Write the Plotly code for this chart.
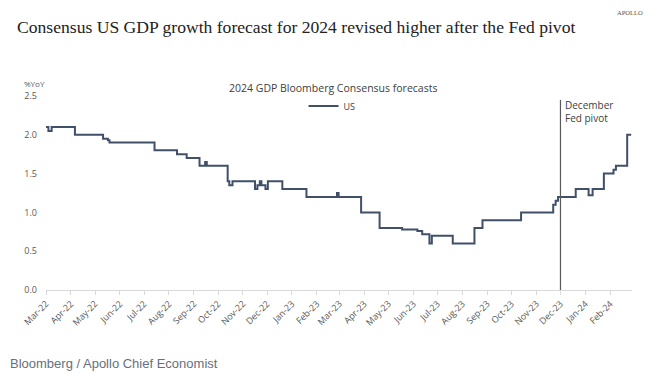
import plotly.graph_objects as go

# ---- data ----
dates = [
    "2022-03-01", "2022-03-04", "2022-03-08", "2022-04-06", "2022-05-11", "2022-05-17",
    "2022-05-19", "2022-07-14", "2022-08-11", "2022-08-23", "2022-09-08", "2022-09-15",
    "2022-09-17", "2022-10-13", "2022-10-15", "2022-10-19", "2022-11-16", "2022-11-19",
    "2022-11-22", "2022-11-24", "2022-11-29", "2022-12-02", "2022-12-20", "2023-01-19",
    "2023-02-26", "2023-02-28", "2023-03-28", "2023-04-20", "2023-05-18", "2023-06-06",
    "2023-06-12", "2023-06-21", "2023-06-24", "2023-07-20", "2023-08-16", "2023-08-26",
    "2023-10-13", "2023-11-22", "2023-11-25", "2023-11-28", "2023-12-20", "2024-01-05",
    "2024-01-10", "2024-01-24", "2024-02-05", "2024-02-08", "2024-02-22", "2024-02-27",
]
us_gdp_2024 = [
    2.1, 2.05, 2.1, 2.0, 1.95, 1.93,
    1.9, 1.8, 1.75, 1.7, 1.6, 1.65,
    1.6, 1.4, 1.35, 1.4, 1.3, 1.35,
    1.4, 1.35, 1.3, 1.4, 1.3, 1.2,
    1.25, 1.2, 1.0, 0.8, 0.78, 0.76,
    0.72, 0.6, 0.7, 0.6, 0.8, 0.9,
    1.0, 1.1, 1.15, 1.2, 1.3, 1.22,
    1.3, 1.5, 1.55, 1.6, 2.0, 2.0,
]
series_name = "US"
fed_pivot_date = "2023-12-01"
x_range = ["2022-03-01", "2024-02-28"]
y_range = [0, 2.5]

title = "Consensus US GDP growth forecast for 2024 revised higher after the Fed pivot"
chart_title = "2024 GDP Bloomberg Consensus forecasts"
y_unit = "%YoY"
pivot_label = "December<br>Fed pivot"
source = "Bloomberg / Apollo Chief Economist"
brand = "APOLLO"

# ---- layout geometry (page has an 8px body margin) ----
OFF = 8
W, H = 660 - OFF, 379 - OFF
ML, MR, MT, MB = 46 - OFF, 28, 96 - OFF, 89
PW, PH = W - ML - MR, H - MT - MB


def px(x):
    return (x - OFF - ML) / PW


def py(y):
    return (H - MB - (y - OFF)) / PH


fig = go.Figure()
fig.add_trace(go.Scatter(
    x=dates, y=us_gdp_2024, name=series_name, mode="lines",
    line=dict(color="#3f5068", width=2, shape="hv"),
))

fig.add_shape(type="line", xref="x", yref="y", x0=fed_pivot_date, x1=fed_pivot_date,
              y0=0, y1=2.45, line=dict(color="#595959", width=1.2))

font_sans = "Open Sans, Noto Sans, sans-serif"
ann = [
    dict(text=pivot_label, x=fed_pivot_date, xref="x", y=2.3, yref="y", xanchor="left",
         yanchor="middle", xshift=3, align="left", showarrow=False,
         font=dict(family=font_sans, size=10, color="#404040")),
    dict(text=chart_title, x=px(333), y=py(88), xref="paper", yref="paper",
         xanchor="center", yanchor="middle", showarrow=False,
         font=dict(family=font_sans, size=10.5, color="#404040")),
    dict(text=y_unit, x=px(22), y=py(83.5), xref="paper", yref="paper",
         xanchor="left", yanchor="middle", showarrow=False,
         font=dict(family=font_sans, size=8, color="#595959")),
    dict(text=source, x=px(8), y=py(363), xref="paper", yref="paper",
         xanchor="left", yanchor="middle", showarrow=False,
         font=dict(family="Liberation Sans, Arial, sans-serif", size=13, color="#66707c")),
    dict(text=brand, x=px(645), y=py(12), xref="paper", yref="paper",
         xanchor="right", yanchor="middle", showarrow=False,
         font=dict(family="Liberation Serif, serif", size=6.5, color="#555555")),
]

fig.update_layout(
    width=W, height=H,
    margin=dict(l=ML, r=MR, t=MT, b=MB, pad=0),
    paper_bgcolor="white", plot_bgcolor="white",
    title=dict(text=title, x=(17 - OFF) / W, xanchor="left", xref="container",
               y=1 - (27 - OFF) / H, yref="container", yanchor="middle",
               font=dict(family="Liberation Serif, Times New Roman, serif", size=17.6, color="#222222")),
    showlegend=True,
    legend=dict(x=px(332), y=py(106), xanchor="center", yanchor="middle",
                orientation="h", bgcolor="rgba(0,0,0,0)",
                font=dict(family=font_sans, size=9, color="#404040"),
                itemwidth=30, tracegroupgap=0),
    annotations=ann,
    xaxis=dict(type="date", range=x_range, dtick="M1", tick0="2022-03-01",
               tickformat="%b-%y", tickangle=-45, showgrid=False, zeroline=False,
               showline=True, linecolor="#d9d9d9", linewidth=1,
               ticks="outside", ticklen=4, tickcolor="#d9d9d9",
               tickfont=dict(family=font_sans, size=9, color="#595959")),
    yaxis=dict(range=y_range, dtick=0.5, tickformat=".1f", showgrid=False,
               zeroline=False, showline=False, ticks="", ticklabelstandoff=8,
               tickfont=dict(family=font_sans, size=9, color="#595959")),
)

fig.write_html("out.html")
